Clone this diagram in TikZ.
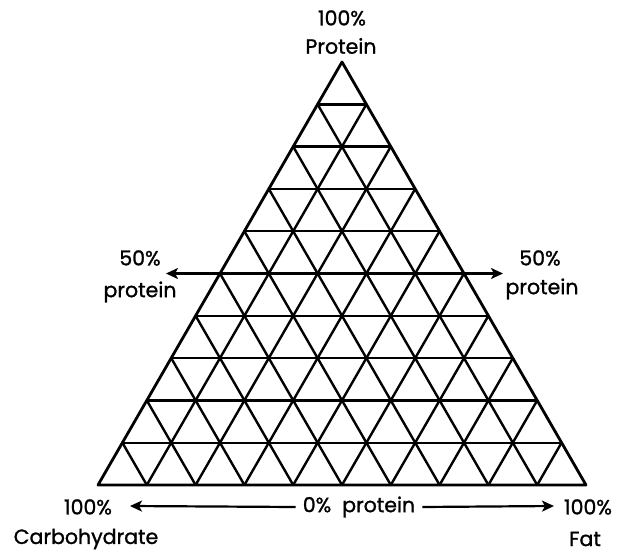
\documentclass[tikz,border=0pt]{standalone}
\usepackage{fontspec}
\setmainfont{Poppins}[FakeBold=1.2]
\usetikzlibrary{calc,arrows.meta}
\begin{document}
\begin{tikzpicture}[x=1pt,y=-1pt,
  gridline/.style={line width=2.4pt,line cap=round,line join=round},
  arrowline/.style={line width=2.2pt,-{Stealth[length=12pt,width=11pt,inset=3pt]}},
  lbl/.style={font=\fontsize{20.5}{24}\selectfont,inner sep=0pt}]
\useasboundingbox (0,0) rectangle (622,552);
\coordinate (A) at (342,62);
\coordinate (L) at (98,485);
\coordinate (R) at (586,485);
% grid
\foreach \k in {1,...,9}{
  \draw[gridline] ($(L)!\k/10!(A)$) -- ($(R)!\k/10!(A)$);
  \draw[gridline] ($(L)!\k/10!(R)$) -- ($(A)!\k/10!(R)$);
  \draw[gridline] ($(R)!\k/10!(L)$) -- ($(A)!\k/10!(L)$);
}
\draw[gridline,line width=2.8pt] (A) -- (L) -- (R) -- cycle;
% side arrows
\coordinate (ML) at ($(L)!0.5!(A)$);
\coordinate (MR) at ($(R)!0.5!(A)$);
\coordinate (TL) at (166,273.5);
\coordinate (TR) at (503,273.5);
\draw[arrowline] (ML) -- (TL);
\draw[arrowline] (MR) -- (TR);
% labels
\node[lbl] (top1) at (342,18) {100\%};
\node[lbl] (top2) at (341,46) {Protein};
\node[lbl] (l1) at (140,258) {50\%};
\node[lbl] (l2) at (140,292) {protein};
\node[lbl] (r1) at (540,258) {50\%};
\node[lbl] (r2) at (542,289) {protein};
\node[lbl] (mid) at (359,507) {0\%\ \ protein};
\node[lbl] (bl1) at (88,507) {100\%};
\node[lbl] (bl2) at (86,539) {Carbohydrate};
\node[lbl] (br1) at (588,507) {100\%};
\node[lbl] (br2) at (585,539) {Fat};
\coordinate (BTL) at (130,506);
\coordinate (BTR) at (554,506);
\draw[arrowline] ([xshift=-7pt]mid.west) -- (BTL);
\draw[arrowline] ([xshift=7pt]mid.east) -- (BTR);
\end{tikzpicture}
\end{document}
